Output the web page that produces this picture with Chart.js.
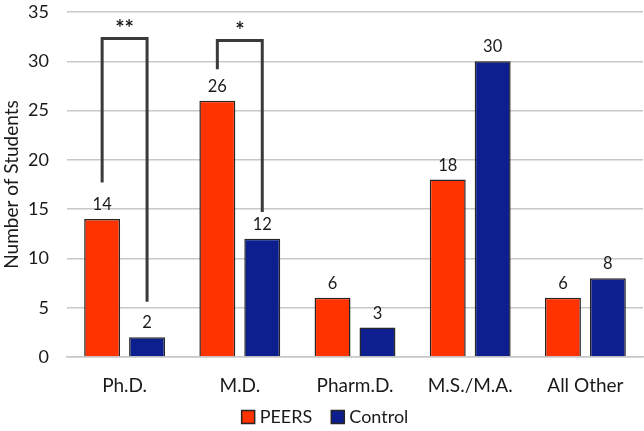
<!DOCTYPE html>
<html>
<head>
<meta charset="utf-8">
<script src="https://cdn.jsdelivr.net/npm/chart.js@4.4.0/dist/chart.umd.min.js"></script>
<style>
  html, body { margin: 0; padding: 0; background: #fff; }
  #wrap { width: 644px; height: 431px; position: relative; }
</style>
</head>
<body>
<div id="wrap"><canvas id="grafico"></canvas></div>
<script>
// datos del grafico
const categorias = ['Ph.D.', 'M.D.', 'Pharm.D.', 'M.S./M.A.', 'All Other'];
const peers = [14, 26, 6, 18, 6];
const control = [2, 12, 3, 30, 8];
const ticksY = [0, 5, 10, 15, 20, 25, 30, 35];

// corchetes de significancia: categoria, altura, extremo izq., extremo der., texto
const corcheteCat = [0, 1];
const corcheteTop = [32.3, 32.1];
const corcheteIzq = [17.7, 29.2];
const corcheteDer = [5.6, 14.7];
const corcheteTxt = ['**', '*'];

const FUENTE = 'Lato, "Open Sans", sans-serif';
const TEXTO = '#1a1a1a';

// etiquetas de valor encima de cada barra
const etiquetasPlugin = {
  id: 'etiquetas',
  afterDatasetsDraw(chart) {
    const ctx = chart.ctx;
    ctx.save();
    ctx.font = '16.5px ' + FUENTE;
    ctx.fillStyle = TEXTO;
    ctx.textAlign = 'center';
    ctx.textBaseline = 'bottom';
    chart.data.datasets.forEach((ds, i) => {
      chart.getDatasetMeta(i).data.forEach((bar, j) => {
        ctx.fillText(ds.data[j], bar.x, bar.y - 6);
      });
    });
    ctx.restore();
  }
};

// corchetes entre barras
const corchetesPlugin = {
  id: 'corchetes',
  afterDatasetsDraw(chart) {
    const ctx = chart.ctx;
    const y = chart.scales.y;
    ctx.save();
    ctx.strokeStyle = '#3a3a3a';
    ctx.lineWidth = 3;
    ctx.lineCap = 'butt';
    ctx.lineJoin = 'miter';
    corcheteCat.forEach((c, k) => {
      const x1 = chart.getDatasetMeta(0).data[c].x;
      const x2 = chart.getDatasetMeta(1).data[c].x;
      const yt = y.getPixelForValue(corcheteTop[k]);
      ctx.beginPath();
      ctx.moveTo(x1, y.getPixelForValue(corcheteIzq[k]));
      ctx.lineTo(x1, yt);
      ctx.lineTo(x2, yt);
      ctx.lineTo(x2, y.getPixelForValue(corcheteDer[k]));
      ctx.stroke();
      ctx.fillStyle = TEXTO;
      ctx.font = 'bold 22px ' + FUENTE;
      ctx.textAlign = 'center';
      ctx.textBaseline = 'middle';
      ctx.fillText(corcheteTxt[k], (x1 + x2) / 2, yt - 10);
    });
    ctx.restore();
  }
};

// leyenda dibujada a mano debajo del eje x
const leyendaPlugin = {
  id: 'leyenda',
  afterDraw(chart) {
    const ctx = chart.ctx;
    const caja = 13, hueco = 5, sep = 19, yc = 417;
    ctx.save();
    ctx.font = '18px ' + FUENTE;
    ctx.textBaseline = 'middle';
    const items = chart.data.datasets.map(ds => ({
      txt: ds.label, color: ds.backgroundColor, w: ctx.measureText(ds.label).width
    }));
    let total = 0;
    items.forEach((it, i) => { total += caja + hueco + it.w + (i ? sep : 0); });
    let x = chart.width / 2 - total / 2 + 3;
    items.forEach(it => {
      ctx.fillStyle = it.color;
      ctx.fillRect(x, yc - caja / 2, caja, caja);
      ctx.strokeStyle = '#262626';
      ctx.lineWidth = 1.5;
      ctx.strokeRect(x, yc - caja / 2, caja, caja);
      ctx.fillStyle = TEXTO;
      ctx.fillText(it.txt, x + caja + hueco, yc);
      x += caja + hueco + it.w + sep;
    });
    ctx.restore();
  }
};

const ctx = document.getElementById('grafico').getContext('2d');
new Chart(ctx, {
  type: 'bar',
  data: {
    labels: categorias,
    datasets: [
      {
        label: 'PEERS',
        data: peers,
        backgroundColor: '#ff3300',
        borderColor: '#262626',
        borderWidth: 1.5,
        categoryPercentage: 0.78,
        barPercentage: 0.8
      },
      {
        label: 'Control',
        data: control,
        backgroundColor: '#0d1f8e',
        borderColor: '#262626',
        borderWidth: 1.5,
        categoryPercentage: 0.78,
        barPercentage: 0.8
      }
    ]
  },
  options: {
    responsive: true,
    maintainAspectRatio: false,
    animation: false,
    layout: { padding: { top: 12, right: 1, left: 0, bottom: 30 } },
    plugins: {
      legend: { display: false },
      tooltip: { enabled: false }
    },
    scales: {
      x: {
        grid: { display: false, drawTicks: false },
        border: { color: '#c8c8c8', width: 1.5 },
        ticks: { color: TEXTO, font: { size: 19, family: FUENTE }, padding: 17 },
        afterFit(s) { s.height = 44; }
      },
      y: {
        min: 0,
        max: 35,
        afterBuildTicks(s) { s.ticks = ticksY.map(v => ({ value: v })); },
        // marcas invisibles para separar las etiquetas sin agregar relleno arriba
        grid: { color: '#c8c8c8', lineWidth: 1.5, drawTicks: true, tickLength: 18, tickColor: 'rgba(0,0,0,0)' },
        border: { display: false },
        ticks: { color: TEXTO, font: { size: 18, family: FUENTE }, padding: 0 },
        title: {
          display: true,
          text: 'Number of Students',
          color: TEXTO,
          font: { size: 19, family: FUENTE },
          padding: { top: 0, bottom: 0 }
        },
        afterFit(s) { s.width = 67; }
      }
    }
  },
  plugins: [etiquetasPlugin, corchetesPlugin, leyendaPlugin]
});
</script>
</body>
</html>
